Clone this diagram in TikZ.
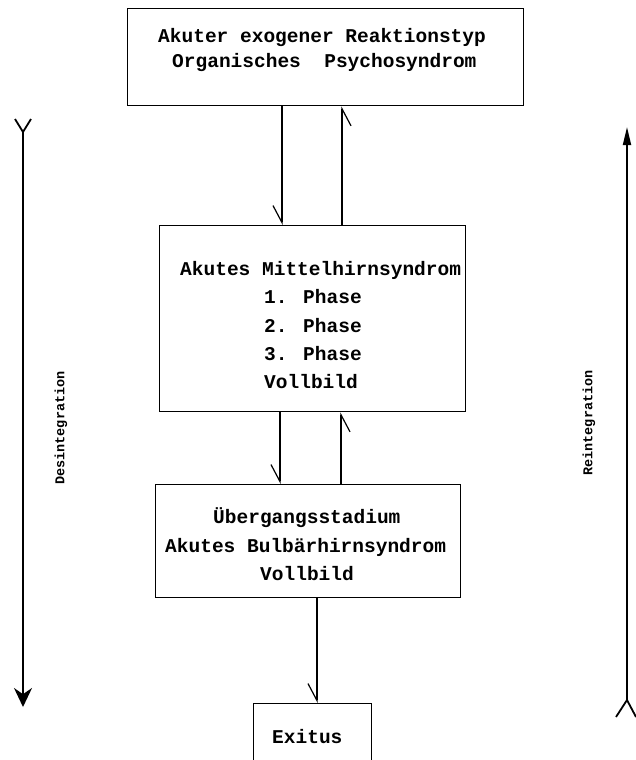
\documentclass[tikz,border=0pt]{standalone}
\usepackage{fontspec}
\usetikzlibrary{arrows.meta}
\newfontfamily\tw[WordSpace={1,0,0}]{Liberation Mono}
\begin{document}
\begin{tikzpicture}[x=1pt,y=-1pt,
  box/.style={draw, line width=1.4pt, inner sep=0pt, anchor=north west},
  txt/.style={anchor=base west, inner sep=0pt, font=\tw\bfseries\fontsize{19.5}{20}\selectfont},
  side/.style={inner sep=0pt, rotate=90, font=\tw\bfseries\fontsize{13.5}{14}\selectfont},
  harp/.style={line width=1.2pt, -{Straight Barb[harpoon,swap,length=17pt,width=18pt,line width=1.2pt]}},
  bigline/.style={line width=1.8pt}]
\useasboundingbox (0,0) rectangle (635,760);
% boxes
\node[box, minimum width=396pt, minimum height=97pt] (top) at (127,8) {};
\node[box, minimum width=306pt, minimum height=186pt] (mid) at (159,225) {};
\node[box, minimum width=305pt, minimum height=113pt] (bot) at (155,484) {};
\node[box, minimum width=118pt, minimum height=60pt] (exi) at (253,703) {};
% texts
\node[txt] (t1) at (158,43) {Akuter exogener Reaktionstyp};
\node[txt] (t2) at (172,67) {Organisches\ \ Psychosyndrom};
\node[txt] (m1) at (180,275) {Akutes Mittelhirnsyndrom};
\node[txt] (m2) at (264,303) {1. Phase};
\node[txt] (m3) at (264,332) {2. Phase};
\node[txt] (m4) at (264,360) {3. Phase};
\node[txt] (m5) at (264,388) {Vollbild};
\node[txt] (b1) at (213,523) {Übergangsstadium};
\node[txt] (b2) at (165,552) {Akutes Bulbärhirnsyndrom};
\node[txt] (b3) at (260,580) {Vollbild};
\node[txt] (e1) at (272,743) {Exitus};
\node[side] (des) at (61,428) {Desintegration};
\node[side] (rei) at (589,423) {Reintegration};
% connector columns
\coordinate (c1) at (282,0);
\coordinate (c2) at (342,0);
\coordinate (c3) at (280,0);
\coordinate (c4) at (341,0);
\coordinate (c5) at (317,0);
\draw[harp] (top.south -| c1) -- (mid.north -| c1);
\draw[harp] (mid.north -| c2) -- (top.south -| c2);
\draw[harp] (mid.south -| c3) -- (bot.north -| c3);
\draw[harp] (bot.north -| c4) -- (mid.south -| c4);
\draw[harp] (bot.south -| c5) -- (exi.north -| c5);
% side arrows
\coordinate (lt) at (23,132);
\coordinate (lb) at (23,707);
\draw[bigline, -{Stealth[length=19pt,width=18pt]}] (lt) -- (lb);
\draw[bigline] (lt) -- ++(-8,-13);
\draw[bigline] (lt) -- ++(8,-13);
\coordinate (rt) at (627,127);
\coordinate (rb) at (627,700);
\draw[bigline, -{Triangle[length=18pt,width=8pt]}] (rb) -- (rt);
\draw[bigline] (rb) -- ++(-11,17);
\draw[bigline] (rb) -- ++(9,17);
\end{tikzpicture}
\end{document}
